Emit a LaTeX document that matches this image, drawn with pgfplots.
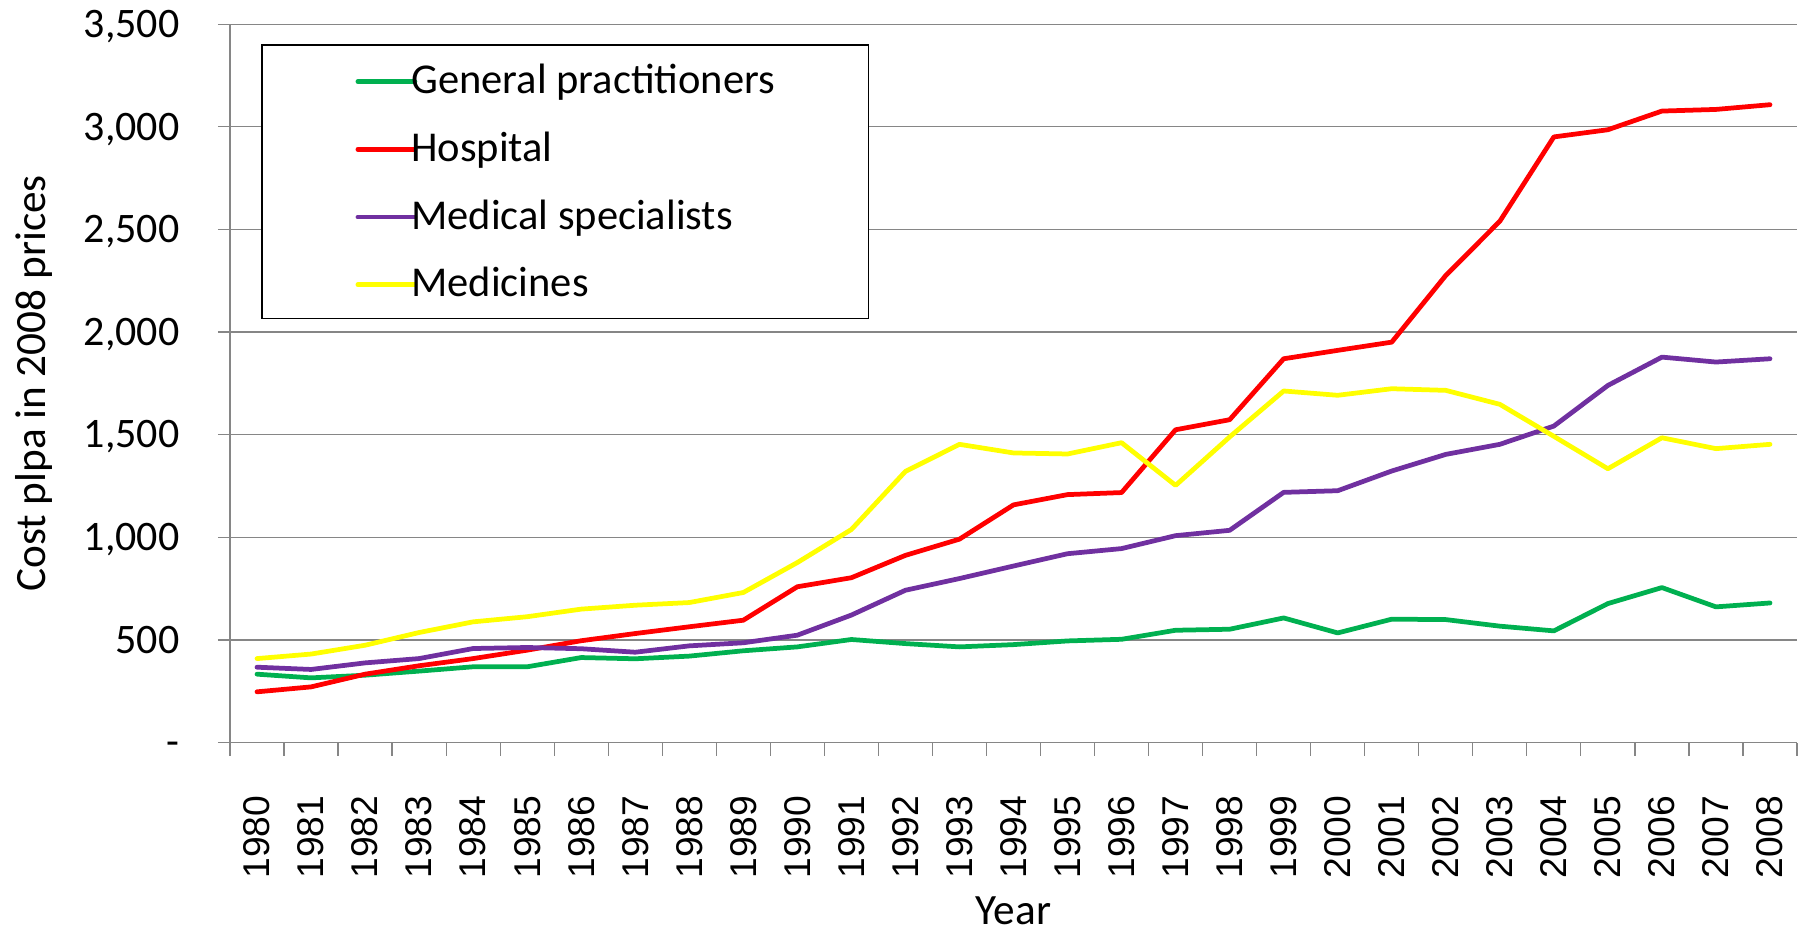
\documentclass[border=0pt]{standalone}
\usepackage{fontspec}
\setmainfont{Carlito}
\newfontfamily\arialf{Liberation Sans}
\usepackage{pgfplots}
\pgfplotsset{compat=1.18}
\definecolor{gpgreen}{HTML}{00B050}
\definecolor{hospred}{HTML}{FF0000}
\definecolor{specpurple}{HTML}{7030A0}
\definecolor{medyellow}{HTML}{FFFF00}
\definecolor{gridgray}{HTML}{868686}
\newcommand\lblfont{\fontsize{16.8pt}{20pt}\selectfont}
\newcommand\titlefont{\fontsize{17.3pt}{20pt}\selectfont}
\newcommand\legfont{\fontsize{17pt}{20pt}\selectfont}
\newcommand\xtfont{\arialf\fontsize{14.9pt}{18pt}\selectfont}
\begin{document}
\begin{tikzpicture}
\begin{axis}[
  at={(0,0)}, anchor=south west,
  scale only axis, width=626.8pt, height=287.3pt,
  xmin=-0.5, xmax=28.5, ymin=0, ymax=3500,
  axis lines=left, axis line style={-, draw=gridgray, line width=0.5pt},
  xtick={0,...,28},
  xticklabels={1980,1981,1982,1983,1984,1985,1986,1987,1988,1989,1990,1991,1992,1993,1994,1995,1996,1997,1998,1999,2000,2001,2002,2003,2004,2005,2006,2007,2008},
  minor xtick={-0.5,0.5,...,28.5},
  every major x tick/.append style={draw=none},
  ytick={0,500,...,3500},
  yticklabels={-,500,{1,000},{1,500},{2,000},{2,500},{3,000},{3,500}},
  ymajorgrids, grid style={draw=gridgray, line width=0.5pt},
  tick align=outside, major tick length=4.8pt, minor tick length=5.2pt,
  tick style={draw=gridgray, line width=0.5pt},
  xticklabel style={font=\xtfont, rotate=90, anchor=east, inner sep=0pt},
  xticklabel shift=16.3pt,
  yticklabel style={font=\lblfont, anchor=east, inner sep=0pt, text height=10.6pt, text depth=0pt},
  yticklabel shift=15.2pt,
  ylabel={Cost plpa in 2008 prices},
  ylabel style={font=\titlefont, at={(axis description cs:-0.1250,0.5)}, anchor=center},
  xlabel={Year},
  xlabel style={font=\titlefont, at={(axis description cs:0.5,-0.2540)}, anchor=base, inner sep=0pt, text depth=0pt},
  legend style={at={(axis description cs:0.0198,0.9722)}, anchor=north west,
    draw=black, line width=0.6pt, inner xsep=37.5pt, inner ysep=0.5pt,
    font=\legfont, row sep=0pt, column sep=-2.4pt,
    nodes={inner sep=0pt, text height=19pt, text depth=8.1pt}},
  legend cell align=left,
  legend image code/.code={\draw[#1, line width=1.9pt, line cap=round] (0pt,-0.6pt) -- (22.8pt,-0.6pt);},
  every axis plot/.append style={line width=1.9pt, line join=round, line cap=round},
]
\addplot[gpgreen] coordinates {(0,333)(1,315)(2,328)(3,348)(4,369)(5,369)(6,414)(7,408)(8,421)(9,447)(10,466)(11,502)(12,482)(13,466)(14,477)(15,495)(16,503)(17,547)(18,552)(19,607)(20,534)(21,601)(22,599)(23,567)(24,544)(25,677)(26,755)(27,661)(28,680)};
\addlegendentry{General practitioners}
\addplot[hospred] coordinates {(0,247)(1,271)(2,333)(3,374)(4,409)(5,450)(6,496)(7,531)(8,564)(9,596)(10,759)(11,803)(12,912)(13,991)(14,1158)(15,1208)(16,1218)(17,1524)(18,1573)(19,1870)(20,1911)(21,1951)(22,2276)(23,2540)(24,2951)(25,2986)(26,3077)(27,3085)(28,3108)};
\addlegendentry{Hospital}
\addplot[specpurple] coordinates {(0,367)(1,356)(2,388)(3,409)(4,458)(5,463)(6,457)(7,440)(8,471)(9,486)(10,523)(11,621)(12,742)(13,799)(14,860)(15,920)(16,945)(17,1008)(18,1034)(19,1219)(20,1227)(21,1323)(22,1404)(23,1453)(24,1542)(25,1740)(26,1878)(27,1854)(28,1870)};
\addlegendentry{Medical specialists}
\addplot[medyellow] coordinates {(0,409)(1,431)(2,474)(3,536)(4,588)(5,613)(6,650)(7,669)(8,682)(9,731)(10,877)(11,1038)(12,1321)(13,1453)(14,1411)(15,1406)(16,1461)(17,1253)(18,1489)(19,1713)(20,1692)(21,1724)(22,1716)(23,1648)(24,1492)(25,1334)(26,1485)(27,1432)(28,1453)};
\addlegendentry{Medicines}
\end{axis}
\pgfresetboundingbox
\useasboundingbox (-92pt,-76.3pt) rectangle (631.2pt,297pt);
\end{tikzpicture}
\end{document}
